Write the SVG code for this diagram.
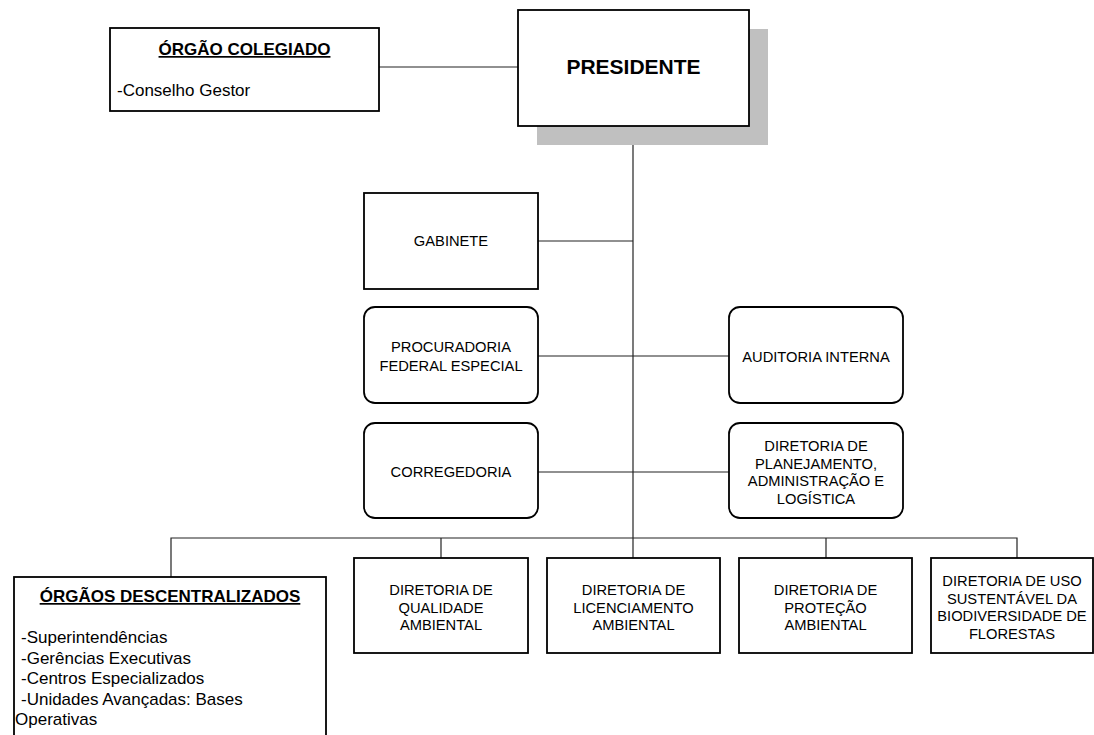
<svg xmlns="http://www.w3.org/2000/svg" width="1094" height="735" viewBox="0 0 1094 735">
<style>
.box{fill:#fff;stroke:#000;stroke-width:1.8}
.con{fill:none;stroke:#222;stroke-width:1.2}
.t{font-family:"Liberation Sans",Arial,sans-serif;font-size:14.7px;fill:#000;text-anchor:middle}
.title{font-family:"Liberation Sans",Arial,sans-serif;font-size:17px;font-weight:bold;fill:#000;text-anchor:middle;text-decoration:underline}
.body{font-family:"Liberation Sans",Arial,sans-serif;font-size:17px;fill:#000}
</style>
<rect width="1094" height="735" fill="#fff"/>
<g id="connectors">
<line class="con" x1="379" y1="67" x2="518" y2="67"/>
<line class="con" x1="633" y1="145" x2="633" y2="558"/>
<line class="con" x1="538" y1="241" x2="633" y2="241"/>
<line class="con" x1="538" y1="356" x2="729" y2="356"/>
<line class="con" x1="538" y1="472" x2="729" y2="472"/>
<polyline class="con" points="171,577 171,538 1017,538 1017,558"/>
<line class="con" x1="441" y1="538" x2="441" y2="558"/>
<line class="con" x1="826" y1="538" x2="826" y2="558"/>
</g>
<g id="orgao-colegiado">
<rect class="box" x="110" y="28" width="269" height="83"/>
<text class="title" x="244.5" y="55">ÓRGÃO COLEGIADO</text>
<text class="body" x="117" y="96">-Conselho Gestor</text>
</g>
<g id="presidente">
<rect x="537" y="29" width="231" height="116" fill="#c0c0c0"/>
<rect class="box" x="518" y="10" width="231" height="116"/>
<text x="633.5" y="74" font-family="Liberation Sans, Arial, sans-serif" font-size="21" font-weight="bold" text-anchor="middle">PRESIDENTE</text>
</g>
<g id="gabinete">
<rect class="box" x="364" y="193" width="174" height="96"/>
<text class="t" x="451" y="246">GABINETE</text>
</g>
<g id="procuradoria">
<rect class="box" x="364" y="307" width="174" height="96" rx="11"/>
<text class="t" x="451" y="352">PROCURADORIA</text>
<text class="t" x="451" y="371">FEDERAL ESPECIAL</text>
</g>
<g id="auditoria">
<rect class="box" x="729" y="307" width="174" height="96" rx="11"/>
<text class="t" x="816" y="362">AUDITORIA INTERNA</text>
</g>
<g id="corregedoria">
<rect class="box" x="364" y="423" width="174" height="95" rx="11"/>
<text class="t" x="451" y="477">CORREGEDORIA</text>
</g>
<g id="planejamento">
<rect class="box" x="729" y="423" width="174" height="95" rx="11"/>
<text class="t" x="816" y="451">DIRETORIA DE</text>
<text class="t" x="816" y="468.5">PLANEJAMENTO,</text>
<text class="t" x="816" y="486">ADMINISTRAÇÃO E</text>
<text class="t" x="816" y="504">LOGÍSTICA</text>
</g>
<g id="descentralizados">
<rect class="box" x="14" y="577" width="312" height="170"/>
<text class="title" x="170" y="602">ÓRGÃOS DESCENTRALIZADOS</text>
<text class="body" x="21" y="643">-Superintendências</text>
<text class="body" x="21" y="663.5">-Gerências Executivas</text>
<text class="body" x="21" y="684">-Centros Especializados</text>
<text class="body" x="21" y="705">-Unidades Avançadas: Bases</text>
<text class="body" x="15" y="725">Operativas</text>
</g>
<g id="qualidade">
<rect class="box" x="354" y="558" width="174" height="95"/>
<text class="t" x="441" y="595">DIRETORIA DE</text>
<text class="t" x="441" y="612.5">QUALIDADE</text>
<text class="t" x="441" y="630">AMBIENTAL</text>
</g>
<g id="licenciamento">
<rect class="box" x="547" y="558" width="173" height="95"/>
<text class="t" x="633.5" y="595">DIRETORIA DE</text>
<text class="t" x="633.5" y="612.5">LICENCIAMENTO</text>
<text class="t" x="633.5" y="630">AMBIENTAL</text>
</g>
<g id="protecao">
<rect class="box" x="739" y="558" width="173" height="95"/>
<text class="t" x="825.5" y="595">DIRETORIA DE</text>
<text class="t" x="825.5" y="612.5">PROTEÇÃO</text>
<text class="t" x="825.5" y="630">AMBIENTAL</text>
</g>
<g id="uso-sustentavel">
<rect class="box" x="931" y="558" width="162" height="95"/>
<text class="t" x="1012" y="586">DIRETORIA DE USO</text>
<text class="t" x="1012" y="603.5">SUSTENTÁVEL DA</text>
<text class="t" x="1012" y="621">BIODIVERSIDADE DE</text>
<text class="t" x="1012" y="638.5">FLORESTAS</text>
</g>
</svg>
